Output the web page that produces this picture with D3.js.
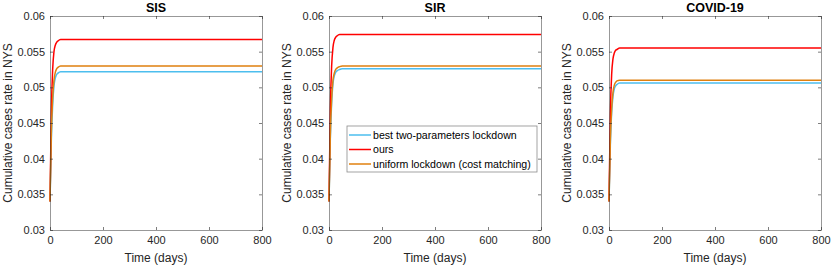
<!DOCTYPE html>
<html>
<head>
<meta charset="utf-8">
<script src="https://cdn.jsdelivr.net/npm/d3@7"></script>
<style>
  body { margin: 0; background: #fff; }
  text { font-family: "Liberation Sans", Arial, sans-serif; }
</style>
</head>
<body>
<div id="chart"></div>
<script>
// Data

var panels = ["SIS", "SIR", "COVID-19"];
var days = [0, 5, 10, 15, 20, 25, 30, 40, 50, 60, 100, 800];

var seriesNames = ["best two-parameters lockdown", "ours", "uniform lockdown (cost matching)"];
var seriesColors = ["#4dbeee", "#ff0000", "#e0800f"];

// values per panel, per series (same order as seriesNames)
var sisBlue   = [0.034, 0.0425, 0.0475, 0.0502, 0.0513, 0.0518, 0.0520, 0.0522, 0.0522, 0.0522, 0.0522, 0.0522];
var sisRed    = [0.034, 0.0465, 0.0525, 0.0550, 0.0559, 0.0563, 0.0565, 0.0567, 0.0567, 0.0567, 0.0567, 0.0567];
var sisOrange = [0.034, 0.0435, 0.0485, 0.0510, 0.0521, 0.0526, 0.0528, 0.0530, 0.0530, 0.0530, 0.0530, 0.0530];

var sirBlue   = [0.034, 0.0428, 0.0478, 0.0505, 0.0516, 0.0521, 0.0523, 0.0525, 0.0526, 0.0526, 0.0526, 0.0526];
var sirRed    = [0.034, 0.0470, 0.0530, 0.0556, 0.0566, 0.0570, 0.0572, 0.0574, 0.0574, 0.0574, 0.0574, 0.0574];
var sirOrange = [0.034, 0.0433, 0.0484, 0.0510, 0.0520, 0.0525, 0.0527, 0.0529, 0.0530, 0.0530, 0.0530, 0.0530];

var covBlue   = [0.034, 0.0418, 0.0464, 0.0487, 0.0498, 0.0502, 0.0504, 0.0506, 0.0506, 0.0506, 0.0506, 0.0506];
var covRed    = [0.034, 0.0462, 0.0518, 0.0540, 0.0548, 0.0552, 0.0553, 0.0555, 0.0555, 0.0555, 0.0555, 0.0555];
var covOrange = [0.034, 0.0424, 0.0470, 0.0493, 0.0503, 0.0507, 0.0509, 0.0510, 0.0510, 0.0510, 0.0510, 0.0510];

var panelData = [
    [sisBlue, sisRed, sisOrange],
    [sirBlue, sirRed, sirOrange],
    [covBlue, covRed, covOrange]
];

var xTicks = [0, 200, 400, 600, 800];
var yTicks = [0.03, 0.035, 0.04, 0.045, 0.05, 0.055, 0.06];
var yTickLabels = ["0.03", "0.035", "0.04", "0.045", "0.05", "0.055", "0.06"];

// Chart variables

var totalWidth = 831, totalHeight = 267;
var panelLeft = [50, 329, 609];
var plotWidth = 212;
var plotTop = 16, plotHeight = 214;
var axisColor = "#262626";

var svg = d3.select("#chart").append("svg")
    .attr("width", totalWidth)
    .attr("height", totalHeight);

var xScale = d3.scaleLinear().domain([0, 800]).range([0, plotWidth]);
var yScale = d3.scaleLinear().domain([0.03, 0.06]).range([plotHeight, 0]);

panels.forEach(function(title, p) {

    var g = svg.append("g")
        .attr("transform", "translate(" + panelLeft[p] + "," + plotTop + ")");

    // lines
    var line = d3.line()
        .x(function(d, i) { return xScale(days[i]); })
        .y(function(d) { return yScale(d); })
        .curve(d3.curveMonotoneX);

    panelData[p].forEach(function(vals, s) {
        g.append("path")
            .datum(vals)
            .attr("d", line)
            .attr("fill", "none")
            .attr("stroke", seriesColors[s])
            .attr("stroke-width", 1.5);
    });

    // axes (ticks inside, mirrored like matlab box on)
    var xAxis = d3.axisBottom(xScale).tickValues(xTicks).tickSizeInner(-3).tickSizeOuter(0).tickPadding(6);
    var yAxis = d3.axisLeft(yScale).tickValues(yTicks)
        .tickFormat(function(d, i) { return yTickLabels[i]; })
        .tickSizeInner(-3).tickSizeOuter(0).tickPadding(5);

    var gx = g.append("g").attr("transform", "translate(0," + plotHeight + ")").call(xAxis);
    var gy = g.append("g").call(yAxis);

    var gxTop = g.append("g").call(d3.axisTop(xScale).tickValues(xTicks).tickSizeInner(-3).tickSizeOuter(0).tickFormat(""));
    var gyRight = g.append("g").attr("transform", "translate(" + plotWidth + ",0)")
        .call(d3.axisRight(yScale).tickValues(yTicks).tickSizeInner(-3).tickSizeOuter(0).tickFormat(""));

    [gx, gy, gxTop, gyRight].forEach(function(a) {
        a.select(".domain").attr("stroke", axisColor).attr("stroke-width", 0.6).attr("stroke-opacity", 0.8);
        a.selectAll(".tick line").attr("stroke", axisColor).attr("stroke-width", 0.6);
        a.selectAll("text").attr("fill", axisColor).style("font-size", "11px")
            .style("font-family", "Liberation Sans, Arial, sans-serif");
    });

    // title
    g.append("text")
        .attr("x", plotWidth / 2)
        .attr("y", -4)
        .attr("text-anchor", "middle")
        .attr("fill", "#000")
        .style("font-size", "12.5px")
        .style("font-weight", "bold")
        .text(title);

    // x label
    g.append("text")
        .attr("x", plotWidth / 2)
        .attr("y", plotHeight + 32)
        .attr("text-anchor", "middle")
        .attr("fill", axisColor)
        .style("font-size", "12px")
        .text("Time (days)");

    // y label
    g.append("text")
        .attr("transform", "translate(-38," + (plotHeight / 2) + ") rotate(-90)")
        .attr("text-anchor", "middle")
        .attr("fill", axisColor)
        .style("font-size", "12px")
        .text("Cumulative cases rate in NYS");

    // legend only in the middle panel
    if (p === 1) {
        var lg = g.append("g").attr("transform", "translate(18,110)");
        lg.append("rect")
            .attr("width", 190).attr("height", 46)
            .attr("fill", "#fff")
            .attr("stroke", "#8c8c8c")
            .attr("stroke-width", 0.8);
        seriesNames.forEach(function(name, s) {
            var yy = 9 + s * 14.5;
            lg.append("line")
                .attr("x1", 2).attr("x2", 24)
                .attr("y1", yy).attr("y2", yy)
                .attr("stroke", seriesColors[s])
                .attr("stroke-width", 1.5);
            lg.append("text")
                .attr("x", 26).attr("y", yy + 3.5)
                .attr("fill", "#000")
                .style("font-size", "10.6px")
                .text(name);
        });
    }
});
</script>
</body>
</html>
